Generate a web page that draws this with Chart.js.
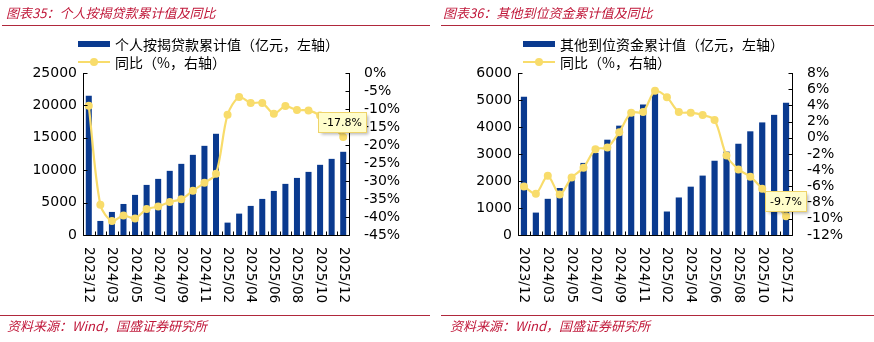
<!DOCTYPE html>
<html>
<head>
<meta charset="utf-8">
<script src="https://cdn.jsdelivr.net/npm/chart.js@4"></script>
<style>
  html, body { margin: 0; padding: 0; background: #fff; }
  #wrap { position: relative; width: 874px; height: 342px; overflow: hidden; background: #fff; }
  canvas { position: absolute; top: 0; }
  .title { position: absolute; top: 4px; font: italic 13px "Noto Sans CJK SC", sans-serif; color: #C0183A; white-space: nowrap; line-height: 18px; }
  .rule { position: absolute; height: 1px; background: #B0283C; }
  .src { position: absolute; top: 317px; font: italic 13px "Noto Sans CJK SC", sans-serif; color: #C0183A; white-space: nowrap; line-height: 18px; }
  .lgbox { position: absolute; width: 32px; height: 6px; }
  .lgline { position: absolute; width: 32px; height: 2px; }
  .lgdot { position: absolute; width: 8px; height: 8px; border-radius: 50%; }
  .lgtxt { position: absolute; font: 14px "Noto Sans CJK SC", sans-serif; color: #000; white-space: nowrap; line-height: 16px; }
</style>
</head>
<body>
<div id="wrap">
  <canvas id="c1" width="437" height="342" style="left:0"></canvas>
  <canvas id="c2" width="437" height="342" style="left:437px"></canvas>

  <div class="title" style="left:6px">图表35：个人按揭贷款累计值及同比</div>
  <div class="rule" style="left:2px; top:25px; width:428px"></div>
  <div class="title" style="left:443px">图表36：其他到位资金累计值及同比</div>
  <div class="rule" style="left:441px; top:25px; width:433px"></div>

  <div class="lgbox" style="left:78px; top:41px; background:#0A3A8F"></div>
  <div class="lgtxt" style="left:115px; top:36px">个人按揭贷款累计值（亿元，左轴）</div>
  <div class="lgline" style="left:78px; top:61px; background:#F8DC6B"></div>
  <div class="lgdot" style="left:90px; top:58px; background:#F8DC6B"></div>
  <div class="lgtxt" style="left:115px; top:54px">同比（%，右轴）</div>

  <div class="lgbox" style="left:523px; top:41px; background:#0A3A8F"></div>
  <div class="lgtxt" style="left:560px; top:36px">其他到位资金累计值（亿元，左轴）</div>
  <div class="lgline" style="left:523px; top:61px; background:#F8DC6B"></div>
  <div class="lgdot" style="left:535px; top:58px; background:#F8DC6B"></div>
  <div class="lgtxt" style="left:560px; top:54px">同比（%，右轴）</div>

  <div class="rule" style="left:0px; top:315px; width:430px"></div>
  <div class="src" style="left:7px">资料来源：Wind，国盛证券研究所</div>
  <div class="rule" style="left:441px; top:315px; width:433px"></div>
  <div class="src" style="left:450px">资料来源：Wind，国盛证券研究所</div>
</div>

<script>
// ---------- data ----------
const categories = ['2023/12','2024/02','2024/03','2024/04','2024/05','2024/06','2024/07','2024/08','2024/09','2024/10','2024/11','2024/12',
                    '2025/02','2025/03','2025/04','2025/05','2025/06','2025/07','2025/08','2025/09','2025/10','2025/11','2025/12'];
const shownXLabels = ['2023/12','2024/03','2024/05','2024/07','2024/09','2024/11','2025/02','2025/04','2025/06','2025/08','2025/10','2025/12'];

const loanValues = [21500, 2170, 3560, 4790, 6190, 7730, 8660, 9900, 10980, 12370, 13760, 15620,
                    1910, 3300, 4490, 5570, 6800, 7890, 8810, 9740, 10830, 11750, 12840];
const loanYoY    = [-9.1, -36.6, -41.1, -39.6, -40.4, -37.8, -37.1, -35.8, -35.1, -32.7, -30.5, -28.0,
                    -11.6, -6.7, -8.3, -8.3, -11.3, -9.2, -10.3, -10.4, -11.8, -14.5, -17.8];
const loanLeftTicks  = [0, 5000, 10000, 15000, 20000, 25000];
const loanRightTicks = [-45, -40, -35, -30, -25, -20, -15, -10, -5, 0];

const otherValues = [5120, 830, 1340, 1740, 2080, 2670, 3040, 3530, 4050, 4420, 4830, 5280,
                     870, 1390, 1790, 2200, 2750, 3090, 3380, 3840, 4170, 4450, 4900];
const otherYoY    = [-6.0, -6.9, -4.7, -7.0, -4.9, -3.7, -1.4, -1.2, 0.7, 3.1, 3.2, 5.8,
                     5.0, 3.2, 3.1, 2.8, 2.2, -2.2, -3.9, -4.8, -6.3, -8.0, -9.7];
const otherLeftTicks  = [0, 1000, 2000, 3000, 4000, 5000, 6000];
const otherRightTicks = [-12, -10, -8, -6, -4, -2, 0, 2, 4, 6, 8];

const BAR = '#0A3A8F';
const LINE = '#F8DC6B';
const TICKFONT = '14px "DejaVu Sans", sans-serif';

function makeChart(id, bars, yoy, leftTicks, rightTicks, geom, calloutText) {
  const axesPlugin = {
    id: 'axesDraw',
    afterDatasetsDraw(chart) {
      const ctx = chart.ctx;
      const ca = chart.chartArea;
      const x = chart.scales.x, yl = chart.scales.yL, yr = chart.scales.yR;
      ctx.save();
      ctx.strokeStyle = '#000';
      ctx.lineWidth = 1;
      ctx.beginPath();
      const L = Math.round(ca.left) + 0.5, R = Math.round(ca.right) + 0.5, B = Math.round(ca.bottom) + 0.5;
      ctx.moveTo(L, Math.round(ca.top)); ctx.lineTo(L, B);
      ctx.moveTo(R, Math.round(ca.top)); ctx.lineTo(R, B);
      ctx.moveTo(L, B); ctx.lineTo(R, B);
      leftTicks.forEach(v => { const y = Math.round(yl.getPixelForValue(v)) + 0.5; ctx.moveTo(L, y); ctx.lineTo(L + 4, y); });
      rightTicks.forEach(v => { const y = Math.round(yr.getPixelForValue(v)) + 0.5; ctx.moveTo(R, y); ctx.lineTo(R - 4, y); });
      const n = categories.length;
      for (let i = 0; i <= n; i++) {
        const px = Math.round(ca.left + (ca.right - ca.left) * i / n) + 0.5;
        ctx.moveTo(px, B); ctx.lineTo(px, B - 4);
      }
      ctx.stroke();
      // tick labels
      ctx.fillStyle = '#000';
      ctx.font = TICKFONT;
      ctx.textBaseline = 'middle';
      ctx.textAlign = 'right';
      leftTicks.forEach(v => ctx.fillText(String(v), ca.left - 6, yl.getPixelForValue(v)));
      ctx.textAlign = 'left';
      rightTicks.forEach(v => ctx.fillText(v + '%', ca.right + 15, yr.getPixelForValue(v)));
      // x labels rotated clockwise
      ctx.font = '13.5px "DejaVu Sans", sans-serif';
      categories.forEach((c, i) => {
        if (!shownXLabels.includes(c)) return;
        const px = x.getPixelForValue(i);
        ctx.save();
        ctx.translate(px, ca.bottom + 12);
        ctx.rotate(Math.PI / 2);
        ctx.textAlign = 'left';
        ctx.textBaseline = 'middle';
        ctx.fillText(c, 0, 0);
        ctx.restore();
      });
      ctx.restore();
    },
    afterDraw(chart) {
      const ctx = chart.ctx;
      const meta = chart.getDatasetMeta(0);
      const last = meta.data[meta.data.length - 1];
      ctx.save();
      ctx.font = '11px "DejaVu Sans", sans-serif';
      const tw = ctx.measureText(calloutText).width;
      const w = Math.round(tw + 9), h = 20;
      const bx = Math.round(last.x - w / 2 - 1) + 0.5, by = Math.round(last.y - 5 - h) + 0.5;
      ctx.shadowColor = 'rgba(0,0,0,0.28)';
      ctx.shadowOffsetX = 2; ctx.shadowOffsetY = 2; ctx.shadowBlur = 3;
      ctx.fillStyle = '#FFFDCB';
      ctx.fillRect(bx, by, w, h);
      ctx.shadowColor = 'transparent';
      ctx.strokeStyle = '#EED36A';
      ctx.lineWidth = 1;
      ctx.strokeRect(bx, by, w, h);
      ctx.fillStyle = '#000';
      ctx.textAlign = 'center';
      ctx.textBaseline = 'middle';
      ctx.fillText(calloutText, bx + w / 2, by + h / 2 + 0.5);
      ctx.restore();
    }
  };

  return new Chart(document.getElementById(id), {
    data: {
      labels: categories,
      datasets: [
        { type: 'line', data: yoy, yAxisID: 'yR', order: 0,
          borderColor: LINE, backgroundColor: LINE, borderWidth: 2.2,
          pointRadius: 4, pointHoverRadius: 4, pointBackgroundColor: LINE, pointBorderWidth: 0,
          tension: 0.3 },
        { type: 'bar', data: bars, yAxisID: 'yL', order: 1,
          backgroundColor: BAR, barPercentage: 0.52, categoryPercentage: 1.0 }
      ]
    },
    options: {
      responsive: false,
      animation: false,
      events: [],
      layout: { padding: { top: geom.top, left: 0, right: 0, bottom: 0 } },
      plugins: { legend: { display: false }, tooltip: { enabled: false } },
      scales: {
        x: { type: 'category', offset: true,
             ticks: { display: false }, grid: { display: false }, border: { display: false },
             afterFit(s) { s.height = geom.xh; } },
        yL: { type: 'linear', position: 'left', min: leftTicks[0], max: leftTicks[leftTicks.length - 1],
              ticks: { display: false, stepSize: leftTicks[1] - leftTicks[0] }, grid: { display: false }, border: { display: false },
              afterFit(s) { s.width = geom.lw; } },
        yR: { type: 'linear', position: 'right', min: rightTicks[0], max: rightTicks[rightTicks.length - 1],
              ticks: { display: false, stepSize: rightTicks[1] - rightTicks[0] }, grid: { display: false }, border: { display: false },
              afterFit(s) { s.width = geom.rw; } }
      }
    },
    plugins: [axesPlugin]
  });
}

makeChart('c1', loanValues, loanYoY, loanLeftTicks, loanRightTicks,
          { top: 73, xh: 107, lw: 83, rw: 88 }, loanYoY[loanYoY.length - 1].toFixed(1) + '%');
makeChart('c2', otherValues, otherYoY, otherLeftTicks, otherRightTicks,
          { top: 73, xh: 107, lw: 81, rw: 82 }, otherYoY[otherYoY.length - 1].toFixed(1) + '%');
</script>
</body>
</html>
